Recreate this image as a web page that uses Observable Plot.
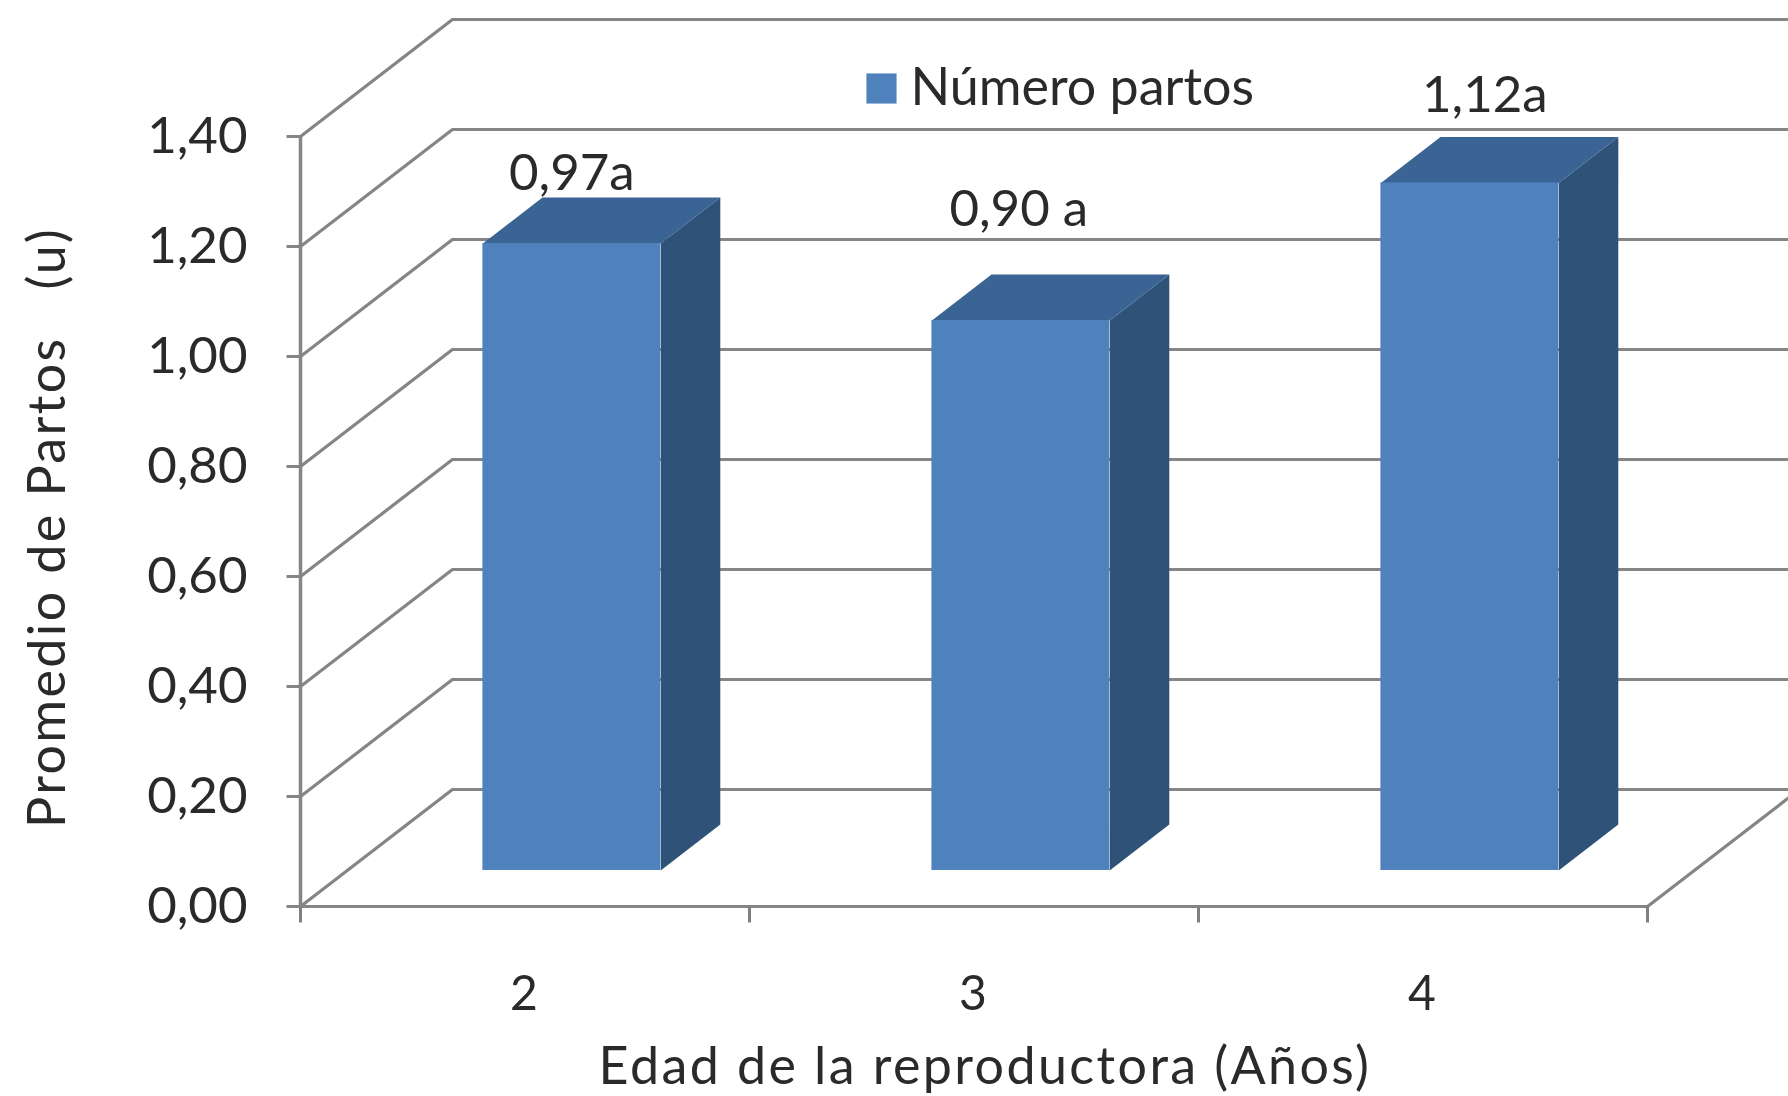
<!DOCTYPE html>
<html>
<head>
<meta charset="utf-8">
<script src="https://cdn.jsdelivr.net/npm/d3@7/dist/d3.min.js"></script>
<script src="https://cdn.jsdelivr.net/npm/@observablehq/plot@0.6/dist/plot.umd.min.js"></script>
<style>
  html, body { margin: 0; padding: 0; background: #fff; overflow: hidden; }
  svg { display: block; filter: blur(0.7px); }
</style>
</head>
<body>
<div id="root"></div>
<script>
// ---- data ----
const categories = ["2", "3", "4"];
const barValues = [1.14, 1.00, 1.25];
const barLabels = ["0,97a", "0,90 a", "1,12a"];
const yTicks = [0, 0.2, 0.4, 0.6, 0.8, 1.0, 1.2, 1.4];
const xBoundaries = [0, 1, 2, 3];
const legendLabel = "Número partos";
const yTitle = "Promedio de Partos   (u)";
const xTitle = "Edad de la reproductora (Años)";

// ---- oblique 3-D projection, in axis units ----
const depthX = 0.3385, depthY = 0.2127;
const zFront = 0.308, zBack = 0.70, barWidth = 0.396;
const project = (c, v, z) => ({x: c + z * depthX, y: v + z * depthY});

const W = 1788, H = 1096;
const xDomain = [-300 / 449, (1788 - 300) / 449];
const yDomain = [(906 - 1096) / 550, 906 / 550];

const bars = barValues.map((v, i) => ({
  i, v, c0: i + 0.5 - barWidth / 2, c1: i + 0.5 + barWidth / 2
}));

const wallLines = yTicks.flatMap((v, i) => [
  {g: i, ...project(0, v, 0)},
  {g: i, ...project(0, v, 1)},
  {g: i, ...project(3, v, 1)}
]);
const floorEdge = [project(0, 0, 0), project(3, 0, 0), project(3, 0, 1)];
const sideFaces = bars.flatMap((b) => [
  {g: b.i, ...project(b.c1, 0, zFront)},
  {g: b.i, ...project(b.c1, 0, zBack)},
  {g: b.i, ...project(b.c1, b.v, zBack)},
  {g: b.i, ...project(b.c1, b.v, zFront)},
  {g: b.i, ...project(b.c1, 0, zFront)}
]);
const topFaces = bars.flatMap((b) => [
  {g: b.i, ...project(b.c0, b.v, zFront)},
  {g: b.i, ...project(b.c0, b.v, zBack)},
  {g: b.i, ...project(b.c1, b.v, zBack)},
  {g: b.i, ...project(b.c1, b.v, zFront)},
  {g: b.i, ...project(b.c0, b.v, zFront)}
]);
const frontFaces = bars.map((b) => {
  const a = project(b.c0, 0, zFront), t = project(b.c1, b.v, zFront);
  return {x1: a.x, x2: t.x, y1: a.y, y2: t.y};
});

const fontStack = "Lato, 'Open Sans', sans-serif";
const ink = "#2a2a2a";
const valueLabel = (i, dx, dy) => Plot.text([bars[i]], {
  x: (b) => project(b.c0 + barWidth / 2, b.v, zFront).x,
  y: (b) => project(b.c0 + barWidth / 2, b.v, zFront).y,
  text: () => barLabels[i], dx, dy,
  fontSize: 51, fill: ink, textAnchor: "middle", lineAnchor: "bottom"
});

const svg = Plot.plot({
  width: W, height: H,
  margin: 0,
  style: {fontFamily: fontStack, background: "#fff", maxWidth: "none"},
  x: {domain: xDomain, range: [0, W], axis: null},
  y: {domain: yDomain, range: [H, 0], axis: null},
  marks: [
    Plot.line(wallLines, {x: "x", y: "y", z: "g", stroke: "#858585", strokeWidth: 3.2, curve: "linear"}),
    Plot.line(floorEdge, {x: "x", y: "y", stroke: "#858585", strokeWidth: 3.2, curve: "linear"}),
    Plot.ruleX([0], {y1: 0, y2: 1.4, stroke: "#858585", strokeWidth: 3.5}),
    Plot.ruleY(yTicks, {x1: -0.03, x2: 0, stroke: "#858585", strokeWidth: 3}),
    Plot.ruleX(xBoundaries, {y1: 0, y2: -0.03, stroke: "#808080", strokeWidth: 3}),
    Plot.line(sideFaces, {x: "x", y: "y", z: "g", fill: "#2f5279", stroke: "none", curve: "linear"}),
    Plot.line(topFaces, {x: "x", y: "y", z: "g", fill: "#3a6493", stroke: "none", curve: "linear"}),
    Plot.rect(frontFaces, {x1: "x1", x2: "x2", y1: "y1", y2: "y2", fill: "#4f81bd"}),
    valueLabel(0, 0, -53),
    valueLabel(1, -2, -94),
    valueLabel(2, 15, -71),
    Plot.text(yTicks, {
      x: () => 0, y: (d) => d, text: (d) => d3.format(".2f")(d).replace(".", ","),
      dx: -53, textAnchor: "end", fontSize: 51, fill: ink
    }),
    Plot.text(categories, {
      x: (d, i) => i + 0.5, y: () => 0, text: (d) => d,
      dy: 88, dx: -1, fontSize: 48, fill: ink, textAnchor: "middle"
    }),
    Plot.text([yTitle], {
      x: () => 0, y: () => 0.7, text: (d) => d, rotate: -90, dx: -252, dy: 6,
      fontSize: 52, fill: ink, textAnchor: "middle"
    }),
    Plot.text([xTitle], {
      x: () => 1.5, y: () => 0, text: (d) => d, dy: 161, dx: 11,
      fontSize: 52, fill: ink, textAnchor: "middle"
    }),
    Plot.dot([legendLabel], {
      x: () => 0, y: () => 0, dx: 581, dy: -818, symbol: "square", r: 17, fill: "#4f81bd"
    }),
    Plot.text([legendLabel], {
      x: () => 0, y: () => 0, dx: 610, dy: -818, text: (d) => d,
      textAnchor: "start", fontSize: 52, fill: ink
    })
  ]
});
document.getElementById("root").append(svg);
svg.querySelectorAll("text").forEach((t) => {
  if (t.textContent === xTitle || t.textContent === yTitle) t.setAttribute("letter-spacing", "2.4");
});
</script>
</body>
</html>
